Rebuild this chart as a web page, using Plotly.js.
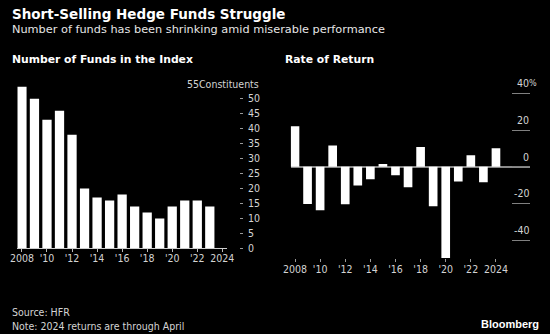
<!DOCTYPE html>
<html>
<head>
<meta charset="utf-8">
<script src="https://cdn.plot.ly/plotly-3.0.1.min.js"></script>
<style>
html,body{margin:0;padding:0;background:#000;}
#chart{width:550px;height:334px;}
</style>
</head>
<body>
<div id="chart"></div>
<script>
// ---- data ----
const fundYears = [2008,2009,2010,2011,2012,2013,2014,2015,2016,2017,2018,2019,2020,2021,2022,2023];
const fundCounts = [54,50,43,46,38,20,17,16,18,14,12,10,14,16,16,14];
const returnYears = [2008,2009,2010,2011,2012,2013,2014,2015,2016,2017,2018,2019,2020,2021,2022,2023,2024];
const returnPct = [22.0,-20.3,-23.8,11.5,-20.5,-10.2,-6.9,1.5,-4.7,-11.2,10.7,-21.6,-49.8,-8.0,6.2,-8.5,10.0];
const xTickVals = [2008,2010,2012,2014,2016,2018,2020,2022,2024];
const xTickText = ["2008","'10","'12","'14","'16","'18","'20","'22","2024"];
const fundTickVals = [0,5,10,15,20,25,30,35,40,45,50];
const fundTickText = ["0","5","10","15","20","25","30","35","40","45","50"];
const fundTopVal = 55;
const fundTopLabel = "55Constituents";
const retTickVals = [-40,-20,0,20,40];
const retTickText = ["-40","-20","0","20","40"];
const retTopSuffix = "%";

const W = 550, H = 334;
const px = v => v / W;
const py = v => (H - v) / H;

const tickFont = {family: "DejaVu Sans Condensed, DejaVu Sans, sans-serif", size: 10.5, color: "#d4d4d4"};

const traces = [
  {type: "bar", x: fundYears, y: fundCounts, xaxis: "x", yaxis: "y", width: 0.74,
   marker: {color: "#ffffff", line: {width: 0}}, hoverinfo: "x+y"},
  {type: "bar", x: returnYears, y: returnPct, xaxis: "x2", yaxis: "y2", width: 0.69,
   marker: {color: "#ffffff", line: {width: 0}}, hoverinfo: "x+y"}
];

const annotations = [
  {text: "<b>Short-Selling Hedge Funds Struggle</b>", x: px(10), y: py(13.5), xref: "paper", yref: "paper",
   xanchor: "left", yanchor: "middle", showarrow: false,
   font: {family: "DejaVu Sans, sans-serif", size: 13.5, color: "#ffffff"}},
  {text: "Number of funds has been shrinking amid miserable performance", x: px(10), y: py(29.5), xref: "paper", yref: "paper",
   xanchor: "left", yanchor: "middle", showarrow: false,
   font: {family: "DejaVu Sans, sans-serif", size: 11.3, color: "#e6e6e6"}},
  {text: "<b>Number of Funds in the Index</b>", x: px(10), y: py(59.5), xref: "paper", yref: "paper",
   xanchor: "left", yanchor: "middle", showarrow: false,
   font: {family: "DejaVu Sans, sans-serif", size: 10.8, color: "#ffffff"}},
  {text: "<b>Rate of Return</b>", x: px(282.5), y: py(59.5), xref: "paper", yref: "paper",
   xanchor: "left", yanchor: "middle", showarrow: false,
   font: {family: "DejaVu Sans, sans-serif", size: 10.8, color: "#ffffff"}},
  {text: "Source: HFR", x: px(10), y: py(312), xref: "paper", yref: "paper",
   xanchor: "left", yanchor: "middle", showarrow: false,
   font: {family: "DejaVu Sans Condensed, DejaVu Sans, sans-serif", size: 10.5, color: "#d4d4d4"}},
  {text: "Note: 2024 returns are through April", x: px(10), y: py(326), xref: "paper", yref: "paper",
   xanchor: "left", yanchor: "middle", showarrow: false,
   font: {family: "DejaVu Sans Condensed, DejaVu Sans, sans-serif", size: 10.5, color: "#d4d4d4"}},
  {text: "<b>Bloomberg</b>", x: px(541), y: py(324), xref: "paper", yref: "paper",
   xanchor: "right", yanchor: "middle", showarrow: false,
   font: {family: "Liberation Sans, Arial, sans-serif", size: 11, color: "#ffffff"}},
  {text: fundTopLabel, x: px(261), y: fundTopVal, xref: "paper", yref: "y",
   xanchor: "right", yanchor: "middle", showarrow: false, font: tickFont}
];

retTickVals.forEach((v, i) => {
  annotations.push({text: retTickText[i], x: px(530), y: v, xref: "paper", yref: "y2",
    xanchor: "right", yanchor: "middle", yshift: 10, xshift: 1, showarrow: false, font: tickFont});
});
annotations.push({text: retTopSuffix, x: px(530), y: retTickVals[retTickVals.length - 1], xref: "paper", yref: "y2",
  xanchor: "left", yanchor: "middle", yshift: 10, xshift: -3, showarrow: false,
  font: {family: tickFont.family, size: 9, color: tickFont.color}});

const layout = {
  width: W, height: H,
  margin: {l: 0, r: 0, t: 0, b: 0, pad: 0},
  paper_bgcolor: "#000000", plot_bgcolor: "#000000",
  showlegend: false,
  font: tickFont,
  xaxis: {
    domain: [px(17.3), px(226.7)], range: [2007.63, 2024.35], anchor: "y",
    tickvals: xTickVals, ticktext: xTickText, ticks: "outside", ticklen: 3, tickcolor: "#bbbbbb",
    showline: true, linecolor: "#cfcfcf", linewidth: 1, showgrid: false, zeroline: false,
    tickfont: tickFont, ticklabelstandoff: -3, fixedrange: true
  },
  yaxis: {
    domain: [py(248.3), py(248.3 - 56 * 2.99)], range: [0, 56], anchor: "free", position: px(239), side: "right",
    tickvals: fundTickVals, ticktext: fundTickText, ticks: "outside", ticklen: 3, tickcolor: "#999999",
    showline: false, showgrid: false, zeroline: false, tickfont: tickFont, ticklabelstandoff: 3, fixedrange: true
  },
  xaxis2: {
    domain: [px(290.7), px(530)], range: [2007.658, 2026.71], anchor: "y2",
    tickvals: xTickVals, ticktext: xTickText, ticks: "outside", ticklen: 3, tickcolor: "#999999",
    showline: false, showgrid: false, zeroline: false, tickfont: tickFont, ticklabelstandoff: -2, fixedrange: true
  },
  yaxis2: {
    domain: [py(166.7 + 50 * 1.835), py(166.7 - 42 * 1.835)], range: [-50, 42], anchor: "x2", side: "right",
    tickvals: retTickVals, ticks: "inside", ticklen: 18, tickcolor: "#808080", tickwidth: 1,
    showticklabels: false, showline: false, showgrid: false,
    zeroline: true, zerolinecolor: "#8a8a8a", zerolinewidth: 2, fixedrange: true
  },
  annotations: annotations
};

Plotly.newPlot("chart", traces, layout, {displayModeBar: false, staticPlot: true});
</script>
</body>
</html>
